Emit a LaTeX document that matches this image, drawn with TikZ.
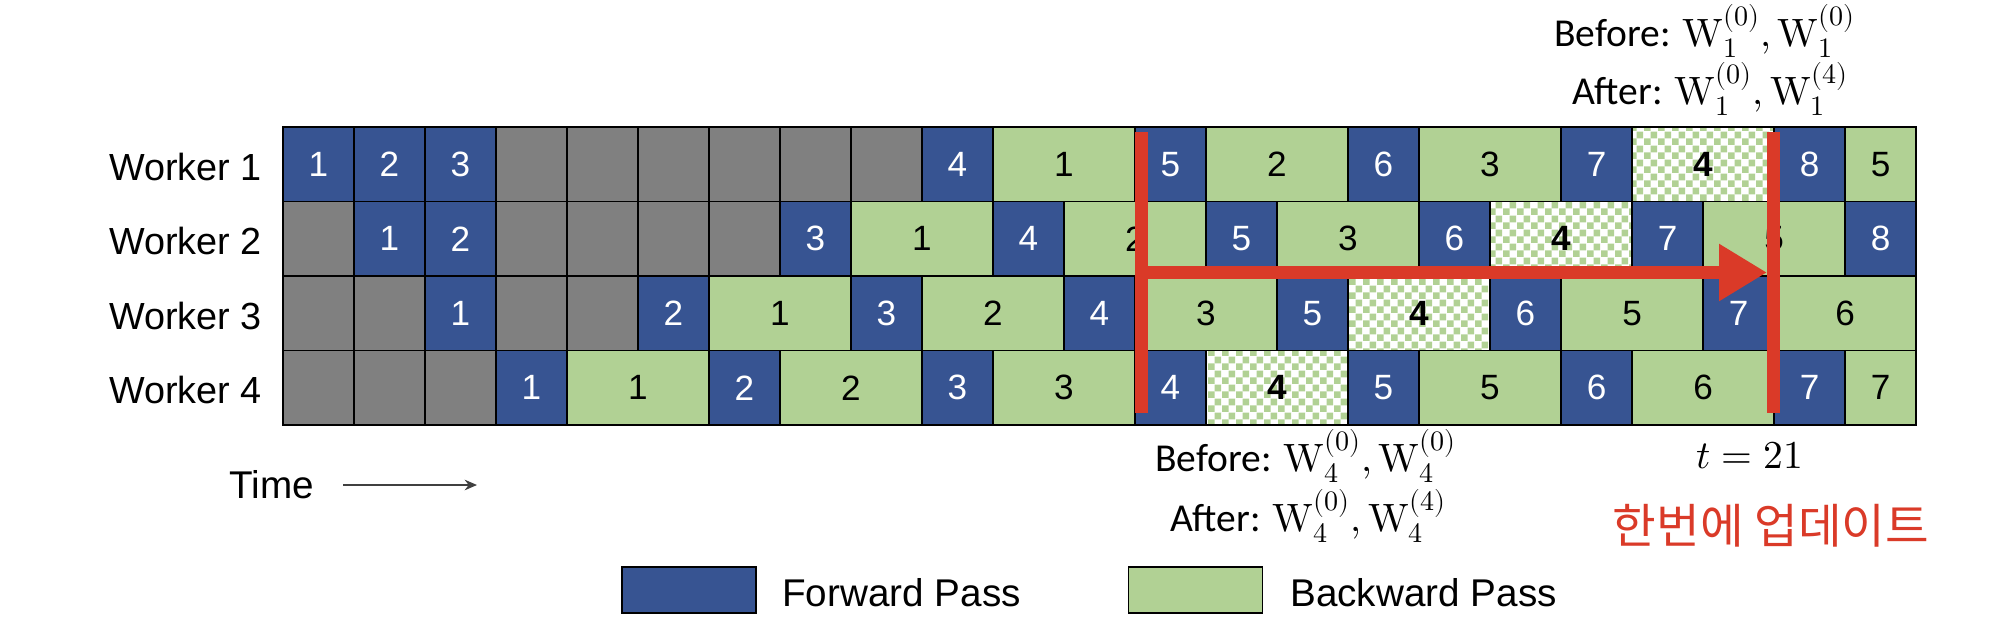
\documentclass[tikz,border=0pt]{standalone}
\usepackage{fontspec}
\usepackage{unicode-math}
\setmainfont{Liberation Sans}
\setmathfont{Latin Modern Math}
\newfontfamily\cjkfont{Noto Sans CJK KR}
\newfontfamily\carlito{Carlito}
\DeclareMathSizes{22.5}{22.5}{16}{12}
\usetikzlibrary{arrows.meta,patterns.meta}
\definecolor{fblue}{HTML}{375492}
\definecolor{bgreen}{HTML}{B1D194}
\definecolor{idlegray}{HTML}{808080}
\definecolor{pred}{HTML}{DA3A28}
\definecolor{timegray}{HTML}{404040}

\tikzdeclarepattern{
  name=chk,
  type=uncolored,
  bottom left={(0pt,0pt)},
  top right={(8pt,8pt)},
  tile size={(8pt,8pt)},
  code={
    \fill (0pt,0pt) rectangle (4pt,4pt);
    \fill (4pt,4pt) rectangle (8pt,8pt);
  }
}

\tikzset{
  blkbase/.style={draw=black, line width=1pt, minimum height=1.49cm, inner sep=0pt,
    font=\fontsize{20}{24}\selectfont},
  fwd/.style={blkbase, fill=fblue, text=white},
  bwd/.style={blkbase, fill=bgreen, text=black},
  idle/.style={blkbase, fill=idlegray},
  chkd/.style={blkbase, preaction={fill=white}, pattern=chk, pattern color=bgreen,
    font=\fontsize{20}{24}\selectfont\bfseries},
  wlabel/.style={anchor=east, inner sep=0pt, font=\fontsize{21.5}{25}\selectfont},
  note/.style={anchor=base, inner sep=0pt, font=\carlito\fontsize{22.5}{26}\selectfont},
  legtext/.style={anchor=west, inner sep=0pt, font=\fontsize{22}{26}\selectfont},
  legbox/.style={draw=black, line width=1pt, minimum width=2.68cm, minimum height=0.92cm, inner sep=0pt},
  redline/.style={draw=pred, line width=7.4pt},
}

\newcommand{\cellbox}[6]{%
  \node[#1, minimum width={#5*1.42cm}] (#2) at ({283+71*(#4-1+#5/2)}, {127+74.5*(#3-0.5)}) {#6};}
\newcommand{\wsym}[2]{\symup{W}_{#1}^{(#2)}}

\begin{document}
\begin{tikzpicture}[x=0.02cm, y=-0.02cm]
\useasboundingbox (0,0) rectangle (1994,636);

% Worker labels
\node[wlabel] (lab1) at (262,166.5) {Worker 1};
\node[wlabel] (lab2) at (262,241) {Worker 2};
\node[wlabel] (lab3) at (262,315.5) {Worker 3};
\node[wlabel] (lab4) at (262,390) {Worker 4};

% Row 1
\cellbox{fwd}{w1f1}{1}{1}{1}{1}
\cellbox{fwd}{w1f2}{1}{2}{1}{2}
\cellbox{fwd}{w1f3}{1}{3}{1}{3}
\foreach \s in {4,...,9} {\cellbox{idle}{w1i\s}{1}{\s}{1}{}}
\cellbox{fwd}{w1f4}{1}{10}{1}{4}
\cellbox{bwd}{w1b1}{1}{11}{2}{1}
\cellbox{fwd}{w1f5}{1}{13}{1}{5}
\cellbox{bwd}{w1b2}{1}{14}{2}{2}
\cellbox{fwd}{w1f6}{1}{16}{1}{6}
\cellbox{bwd}{w1b3}{1}{17}{2}{3}
\cellbox{fwd}{w1f7}{1}{19}{1}{7}
\cellbox{chkd}{w1b4}{1}{20}{2}{4}
\cellbox{fwd}{w1f8}{1}{22}{1}{8}
\cellbox{bwd}{w1b5}{1}{23}{1}{5}

% Row 2
\cellbox{idle}{w2i1}{2}{1}{1}{}
\cellbox{fwd}{w2f1}{2}{2}{1}{1}
\cellbox{fwd}{w2f2}{2}{3}{1}{2}
\foreach \s in {4,...,7} {\cellbox{idle}{w2i\s}{2}{\s}{1}{}}
\cellbox{fwd}{w2f3}{2}{8}{1}{3}
\cellbox{bwd}{w2b1}{2}{9}{2}{1}
\cellbox{fwd}{w2f4}{2}{11}{1}{4}
\cellbox{bwd}{w2b2}{2}{12}{2}{2}
\cellbox{fwd}{w2f5}{2}{14}{1}{5}
\cellbox{bwd}{w2b3}{2}{15}{2}{3}
\cellbox{fwd}{w2f6}{2}{17}{1}{6}
\cellbox{chkd}{w2b4}{2}{18}{2}{4}
\cellbox{fwd}{w2f7}{2}{20}{1}{7}
\cellbox{bwd}{w2b5}{2}{21}{2}{5}
\cellbox{fwd}{w2f8}{2}{23}{1}{8}

% Row 3
\cellbox{idle}{w3i1}{3}{1}{1}{}
\cellbox{idle}{w3i2}{3}{2}{1}{}
\cellbox{fwd}{w3f1}{3}{3}{1}{1}
\cellbox{idle}{w3i4}{3}{4}{1}{}
\cellbox{idle}{w3i5}{3}{5}{1}{}
\cellbox{fwd}{w3f2}{3}{6}{1}{2}
\cellbox{bwd}{w3b1}{3}{7}{2}{1}
\cellbox{fwd}{w3f3}{3}{9}{1}{3}
\cellbox{bwd}{w3b2}{3}{10}{2}{2}
\cellbox{fwd}{w3f4}{3}{12}{1}{4}
\cellbox{bwd}{w3b3}{3}{13}{2}{3}
\cellbox{fwd}{w3f5}{3}{15}{1}{5}
\cellbox{chkd}{w3b4}{3}{16}{2}{4}
\cellbox{fwd}{w3f6}{3}{18}{1}{6}
\cellbox{bwd}{w3b5}{3}{19}{2}{5}
\cellbox{fwd}{w3f7}{3}{21}{1}{7}
\cellbox{bwd}{w3b6}{3}{22}{2}{6}

% Row 4
\foreach \s in {1,2,3} {\cellbox{idle}{w4i\s}{4}{\s}{1}{}}
\cellbox{fwd}{w4f1}{4}{4}{1}{1}
\cellbox{bwd}{w4b1}{4}{5}{2}{1}
\cellbox{fwd}{w4f2}{4}{7}{1}{2}
\cellbox{bwd}{w4b2}{4}{8}{2}{2}
\cellbox{fwd}{w4f3}{4}{10}{1}{3}
\cellbox{bwd}{w4b3}{4}{11}{2}{3}
\cellbox{fwd}{w4f4}{4}{13}{1}{4}
\cellbox{chkd}{w4b4}{4}{14}{2}{4}
\cellbox{fwd}{w4f5}{4}{16}{1}{5}
\cellbox{bwd}{w4b5}{4}{17}{2}{5}
\cellbox{fwd}{w4f6}{4}{19}{1}{6}
\cellbox{bwd}{w4b6}{4}{20}{2}{6}
\cellbox{fwd}{w4f7}{4}{22}{1}{7}
\cellbox{bwd}{w4b7}{4}{23}{1}{7}

% Red markers
\coordinate (L1top) at (1141.5,132);
\coordinate (L1bot) at (1141.5,413);
\coordinate (L2top) at (1773,132);
\coordinate (L2bot) at (1773,413);
\coordinate (A1) at (1141.5,272.5);
\coordinate (A2) at (1767,272.5);
\draw[redline] (L1top) -- (L1bot);
\draw[redline] (L2top) -- (L2bot);
\draw[redline, -{Triangle[length=27.3pt,width=30.7pt]}] (A1) -- (A2);

% Annotations
\node[note] (topB) at (1705,46) {Before: $\wsym{1}{0},\wsym{1}{0}$};
\node[note] (topA) at (1710,104) {After: $\wsym{1}{0},\wsym{1}{4}$};
\node[note] (botB) at (1306,471) {Before: $\wsym{4}{0},\wsym{4}{0}$};
\node[note] (botA) at (1308,531) {After: $\wsym{4}{0},\wsym{4}{4}$};
\node[anchor=base, inner sep=0pt, font=\fontsize{22.5}{26}\selectfont] (tlab) at (1750,468) {$t=21$};
\node[inner sep=0pt, text=pred, font=\cjkfont\fontsize{27}{30}\selectfont] (kor) at (1771,526) {한번에 업데이트};

% Time axis
\node[inner sep=0pt, font=\fontsize{22}{26}\selectfont] (time) at (272,485) {Time};
\coordinate (tA) at (343,485);
\coordinate (tB) at (477,485);
\draw[timegray, line width=1.5pt, -{Stealth[length=7pt,width=6pt]}] (tA) -- (tB);

% Legend
\node[legbox, fill=fblue] (lgF) at (689,590) {};
\node[legtext] (lgFt) at (782,593) {Forward Pass};
\node[legbox, fill=bgreen] (lgB) at (1195.5,590) {};
\node[legtext] (lgBt) at (1290,593) {Backward Pass};
\end{tikzpicture}
\end{document}
